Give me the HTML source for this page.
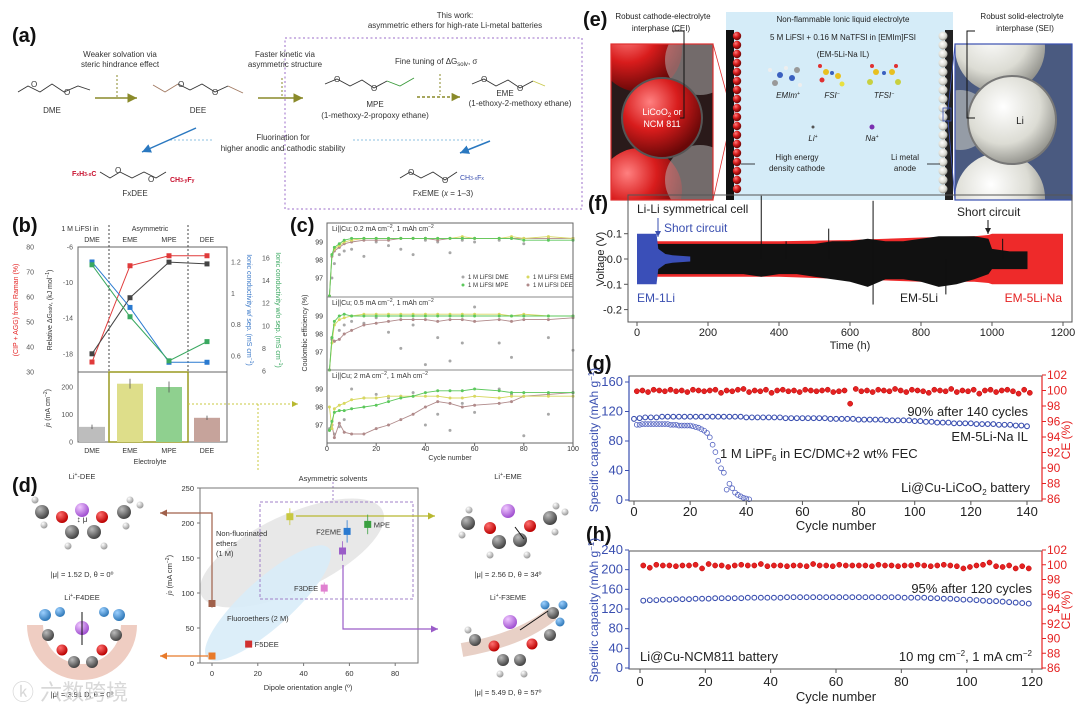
<!DOCTYPE html>
<html><head><meta charset="utf-8"><style>
html,body{margin:0;padding:0;background:#fff;}
svg{display:block;font-family:"Liberation Sans","Noto Sans CJK SC",sans-serif;}
</style></head><body>
<svg id="fig" width="1080" height="705" viewBox="0 0 1080 705" xmlns="http://www.w3.org/2000/svg">
<defs>
<radialGradient id="gRed" cx="35%" cy="30%" r="70%"><stop offset="0" stop-color="#ff8080"/><stop offset="0.5" stop-color="#d81c1c"/><stop offset="1" stop-color="#6a0808"/></radialGradient>
<radialGradient id="gWhite" cx="40%" cy="35%" r="70%"><stop offset="0" stop-color="#ffffff"/><stop offset="0.6" stop-color="#dcdcd4"/><stop offset="1" stop-color="#8a8a84"/></radialGradient>
<radialGradient id="gC" cx="35%" cy="30%" r="70%"><stop offset="0" stop-color="#bbb"/><stop offset="1" stop-color="#444"/></radialGradient>
<radialGradient id="gO" cx="35%" cy="30%" r="70%"><stop offset="0" stop-color="#ff7070"/><stop offset="1" stop-color="#b00"/></radialGradient>
<radialGradient id="gH" cx="35%" cy="30%" r="70%"><stop offset="0" stop-color="#fff"/><stop offset="1" stop-color="#999"/></radialGradient>
<radialGradient id="gF" cx="35%" cy="30%" r="70%"><stop offset="0" stop-color="#9cd0ff"/><stop offset="1" stop-color="#2f78b8"/></radialGradient>
<radialGradient id="gLi" cx="35%" cy="30%" r="70%"><stop offset="0" stop-color="#f0c8ff"/><stop offset="1" stop-color="#a050d0"/></radialGradient>
<clipPath id="clipCath"><rect x="611" y="44" width="102" height="156"/></clipPath>
<clipPath id="clipAnode"><rect x="955" y="44" width="117" height="156"/></clipPath>
<marker id="arOl" markerWidth="8" markerHeight="8" refX="6" refY="3" orient="auto"><path d="M0,0 L6,3 L0,6 z" fill="#8a8a2a"/></marker>
<marker id="arBl" markerWidth="8" markerHeight="8" refX="6" refY="3" orient="auto"><path d="M0,0 L6,3 L0,6 z" fill="#2a78c0"/></marker>
<marker id="arK" markerWidth="8" markerHeight="8" refX="6" refY="3" orient="auto"><path d="M0,0 L6,3 L0,6 z" fill="#222"/></marker>
<marker id="arB2" markerWidth="8" markerHeight="8" refX="6" refY="3" orient="auto"><path d="M0,0 L6,3 L0,6 z" fill="#3a4fb0"/></marker>
<marker id="arBr" markerWidth="8" markerHeight="8" refX="6" refY="3" orient="auto"><path d="M0,0 L6,3 L0,6 z" fill="#a0604a"/></marker>
<marker id="arOr" markerWidth="8" markerHeight="8" refX="6" refY="3" orient="auto"><path d="M0,0 L6,3 L0,6 z" fill="#e87a2a"/></marker>
<marker id="arYe" markerWidth="8" markerHeight="8" refX="6" refY="3" orient="auto"><path d="M0,0 L6,3 L0,6 z" fill="#b8b830"/></marker>
<marker id="arPu" markerWidth="8" markerHeight="8" refX="6" refY="3" orient="auto"><path d="M0,0 L6,3 L0,6 z" fill="#9a5cc8"/></marker>
</defs>

<!-- ================= PANEL A ================= -->
<g font-size="8" fill="#333">
<text x="12" y="42" font-size="20" font-weight="bold" fill="#111">(a)</text>
<text x="455" y="18" text-anchor="middle">This work:</text>
<text x="455" y="28" text-anchor="middle">asymmetric ethers for high-rate Li-metal batteries</text>
<rect x="285" y="38" width="297" height="171" fill="none" stroke="#9b6cc9" stroke-dasharray="2,2.5" stroke-width="1"/>
<g fill="none" stroke="#333" stroke-width="0.9"><polyline points="18,92 28,86 40,92 52,84 64,92 78,86 90,90"/></g>
<text x="31" y="87" font-size="8">O</text><text x="64" y="95">O</text>
<text x="52" y="113" text-anchor="middle">DME</text>
<line x1="95" y1="98" x2="137" y2="98" stroke="#8a8a2a" stroke-width="1.6" marker-end="url(#arOl)"/>
<line x1="117" y1="75" x2="117" y2="97" stroke="#8a8a2a" stroke-dasharray="2,2"/>
<text x="120" y="57" text-anchor="middle">Weaker solvation via</text>
<text x="120" y="67" text-anchor="middle">steric hindrance effect</text>
<g fill="none" stroke-width="0.9"><polyline points="153,85 165,92 178,84" stroke="#a07860"/><polyline points="178,84 190,90 202,84 215,92 228,86" stroke="#333"/><polyline points="228,86 243,93" stroke="#a07860"/></g>
<text x="178" y="87">O</text><text x="212" y="95">O</text>
<text x="198" y="113" text-anchor="middle">DEE</text>
<line x1="258" y1="98" x2="303" y2="98" stroke="#8a8a2a" stroke-width="1.6" marker-end="url(#arOl)"/>
<line x1="282" y1="78" x2="282" y2="97" stroke="#8a8a2a" stroke-dasharray="2,2"/>
<text x="285" y="57" text-anchor="middle">Faster kinetic via</text>
<text x="285" y="67" text-anchor="middle">asymmetric structure</text>
<g fill="none" stroke-width="0.9"><polyline points="325,84 337,79 350,86 362,80 374,88 387,81" stroke="#333"/><polyline points="387,81 400,86 414,78" stroke="#3a9a3a"/></g>
<text x="334" y="82">O</text><text x="371" y="91">O</text>
<text x="375" y="107" text-anchor="middle">MPE</text>
<text x="375" y="118" text-anchor="middle">(1-methoxy-2-propoxy ethane)</text>
<line x1="417" y1="97" x2="460" y2="97" stroke="#8a8a2a" stroke-width="1.4" stroke-dasharray="3,2" marker-end="url(#arOl)"/>
<line x1="440" y1="74" x2="440" y2="95" stroke="#8a8a2a" stroke-dasharray="2,2"/>
<text x="395" y="64">Fine tuning of ΔG<tspan font-size="6" dy="2">solv</tspan><tspan dy="-2">, σ</tspan></text>
<g fill="none" stroke-width="0.9"><polyline points="472,84 484,79 496,86 508,80 520,88 533,81" stroke="#333"/><polyline points="533,81 545,86" stroke="#c8c84a"/></g>
<text x="481" y="82">O</text><text x="517" y="91">O</text>
<text x="505" y="96" text-anchor="middle">EME</text>
<text x="520" y="106" text-anchor="middle">(1-ethoxy-2-methoxy ethane)</text>
<text x="283" y="140" text-anchor="middle">Fluorination for</text>
<text x="283" y="151" text-anchor="middle">higher anodic and cathodic stability</text>
<line x1="170" y1="140" x2="213" y2="140" stroke="#8cc0e0" stroke-dasharray="2,2"/>
<line x1="353" y1="140" x2="485" y2="140" stroke="#8cc0e0" stroke-dasharray="2,2"/>
<line x1="196" y1="128" x2="142" y2="152" stroke="#2a78c0" stroke-width="1.5" marker-end="url(#arBl)"/>
<line x1="490" y1="141" x2="460" y2="153" stroke="#2a78c0" stroke-width="1.5" marker-end="url(#arBl)"/>
<g><text x="72" y="176" fill="#c8102e" font-size="7" font-weight="bold">F<tspan font-size="5">x</tspan>H<tspan font-size="5">3-x</tspan>C</text>
<polyline points="100,172 110,178 120,172 132,178 144,172 156,178 166,172" fill="none" stroke="#333" stroke-width="0.9"/><text x="115" y="173">O</text><text x="148" y="182">O</text>
<text x="170" y="182" fill="#c8102e" font-size="7" font-weight="bold">CH<tspan font-size="5">3-y</tspan>F<tspan font-size="5">y</tspan></text></g>
<text x="135" y="196" text-anchor="middle">FxDEE</text>
<g><polyline points="400,178 410,172 421,178 433,172 445,180 457,172" fill="none" stroke="#333" stroke-width="0.9"/><text x="408" y="175">O</text><text x="442" y="183">O</text><text x="460" y="180" fill="#3a4fb0" font-size="7">CH<tspan font-size="5">3-x</tspan>F<tspan font-size="5">x</tspan></text></g>
<text x="443" y="196" text-anchor="middle">FxEME (<tspan font-style="italic">x</tspan> = 1–3)</text>
</g>

<!-- ================= PANEL E ================= -->
<g font-size="8" fill="#222">
<text x="583" y="26" font-size="20" font-weight="bold" fill="#111">(e)</text>
<text x="663" y="19" text-anchor="middle">Robust cathode-electrolyte</text>
<text x="661" y="31" text-anchor="middle">interphase (CEI)</text>
<g>
<g clip-path="url(#clipCath)">
<rect x="611" y="44" width="102" height="156" fill="#2a1a1a"/>
<circle cx="640" cy="50" r="42" fill="url(#gRed)"/><circle cx="640" cy="190" r="42" fill="url(#gRed)"/>
<circle cx="700" cy="60" r="35" fill="#bbb" opacity="0.5"/><circle cx="700" cy="180" r="35" fill="#bbb" opacity="0.5"/>
<circle cx="662" cy="118" r="40" fill="url(#gRed)" stroke="#555" stroke-width="2"/>
</g>
<rect x="611" y="44" width="102" height="156" fill="none" stroke="#e03030" stroke-width="1.2"/>
<text x="662" y="115" text-anchor="middle" fill="#fff" font-size="9">LiCoO<tspan font-size="6" dy="2">2</tspan><tspan dy="-2"> or</tspan></text>
<text x="662" y="127" text-anchor="middle" fill="#fff" font-size="9">NCM 811</text>
<polyline points="672,31 684,31 684,118 680,118" fill="none" stroke="#111" stroke-width="1"/>
</g>
<rect x="726" y="12" width="227" height="188" fill="#d5ecf8"/>
<line x1="713" y1="44" x2="731" y2="110" stroke="#e03030" stroke-width="0.8"/><line x1="713" y1="200" x2="731" y2="120" stroke="#e03030" stroke-width="0.8"/>
<rect x="728" y="108" width="7" height="13" fill="none" stroke="#e03030" stroke-width="0.8"/>
<g id="cathodeStrip"><rect x="726" y="30" width="8" height="170" fill="#111"/></g>
<g id="anodeStrip"><rect x="945" y="30" width="8" height="170" fill="#222"/></g>
<text x="843" y="22" text-anchor="middle">Non-flammable Ionic liquid electrolyte</text>
<text x="843" y="40" text-anchor="middle">5 M LiFSI + 0.16 M NaTFSI in [EMIm]FSI</text>
<text x="843" y="57" text-anchor="middle">(EM-5Li-Na IL)</text>
<g>
<circle cx="780" cy="75" r="3" fill="#3a60c0"/><circle cx="792" cy="78" r="3" fill="#3a60c0"/><circle cx="775" cy="83" r="3" fill="#999"/><circle cx="797" cy="70" r="3" fill="#999"/><circle cx="786" cy="68" r="2" fill="#eee"/><circle cx="770" cy="70" r="2" fill="#eee"/><circle cx="800" cy="85" r="2" fill="#eee"/>
<circle cx="826" cy="72" r="3" fill="#e8c020"/><circle cx="838" cy="76" r="3" fill="#e8c020"/><circle cx="832" cy="73" r="2" fill="#3a60c0"/><circle cx="822" cy="80" r="2.5" fill="#e03030"/><circle cx="842" cy="84" r="2.5" fill="#e8e040"/><circle cx="820" cy="66" r="2" fill="#e03030"/>
<circle cx="876" cy="72" r="3" fill="#e8c020"/><circle cx="892" cy="72" r="3" fill="#e8c020"/><circle cx="884" cy="73" r="2" fill="#3a60c0"/><circle cx="870" cy="82" r="3" fill="#c8d040"/><circle cx="898" cy="82" r="3" fill="#c8d040"/><circle cx="872" cy="66" r="2" fill="#e03030"/><circle cx="896" cy="66" r="2" fill="#e03030"/>
<circle cx="813" cy="127" r="1.5" fill="#555"/><circle cx="872" cy="127" r="2.5" fill="#7a30b0"/></g>
<text x="788" y="98" text-anchor="middle" font-style="italic">EMIm<tspan font-size="5" dy="-3">+</tspan></text>
<text x="832" y="98" text-anchor="middle" font-style="italic">FSI<tspan font-size="5" dy="-3">−</tspan></text>
<text x="884" y="98" text-anchor="middle" font-style="italic">TFSI<tspan font-size="5" dy="-3">−</tspan></text>
<text x="813" y="141" text-anchor="middle" font-style="italic">Li<tspan font-size="5" dy="-3">+</tspan></text>
<text x="872" y="141" text-anchor="middle" font-style="italic">Na<tspan font-size="5" dy="-3">+</tspan></text>
<text x="797" y="160" text-anchor="middle">High energy</text>
<text x="797" y="171" text-anchor="middle">density cathode</text>
<text x="905" y="160" text-anchor="middle">Li metal</text>
<text x="905" y="171" text-anchor="middle">anode</text>
<line x1="741" y1="164" x2="755" y2="164" stroke="#111" stroke-width="0.8"/><line x1="927" y1="164" x2="940" y2="164" stroke="#111" stroke-width="0.8"/>
<g>
<g clip-path="url(#clipAnode)">
<rect x="955" y="44" width="117" height="156" fill="#4a5a80"/>
<circle cx="1000" cy="48" r="45" fill="url(#gWhite)"/><circle cx="1000" cy="198" r="45" fill="url(#gWhite)"/>
<circle cx="960" cy="120" r="30" fill="#c8c8c0" opacity="0.6"/>
<circle cx="1012" cy="120" r="44" fill="url(#gWhite)" stroke="#777" stroke-width="2"/>
</g>
<rect x="955" y="44" width="117" height="156" fill="none" stroke="#3a4fb0" stroke-width="1.2"/>
<text x="1020" y="124" text-anchor="middle" font-size="10" fill="#222">Li</text>
<polyline points="975,31 967,31 967,118 975,118" fill="none" stroke="#111" stroke-width="1"/>
</g>
<line x1="955" y1="44" x2="948" y2="110" stroke="#3a4fb0" stroke-width="0.8"/><line x1="955" y1="200" x2="948" y2="120" stroke="#3a4fb0" stroke-width="0.8"/>
<rect x="943" y="108" width="8" height="13" fill="none" stroke="#3a4fb0" stroke-width="0.8"/>
<text x="1022" y="19" text-anchor="middle">Robust solid-electrolyte</text>
<text x="1025" y="31" text-anchor="middle">interphase (SEI)</text>
</g>

<!-- ================= PANEL F ================= -->
<g id="panelF" font-size="11" fill="#222">
<text x="588" y="210" font-size="20" font-weight="bold" fill="#111">(f)</text>
<g id="fMarks"></g>
<rect x="628" y="195" width="444" height="127" fill="none" stroke="#555" stroke-width="1"/>
<g id="fAxes"></g>
<text x="637" y="213" font-size="12">Li-Li symmetrical cell</text>
<text x="664" y="232" font-size="12" fill="#3a4fb0">Short circuit</text>
<line x1="658" y1="218" x2="658" y2="237" stroke="#3a4fb0" marker-end="url(#arB2)"/>
<text x="957" y="216" font-size="12">Short circuit</text>
<line x1="988" y1="220" x2="988" y2="234" stroke="#111" marker-end="url(#arK)"/>
<text x="637" y="302" font-size="12" fill="#3a4fb0">EM-1Li</text>
<text x="900" y="302" font-size="12">EM-5Li</text>
<text x="1062" y="302" font-size="12" fill="#e52222" text-anchor="end">EM-5Li-Na</text>
<text x="850" y="349" text-anchor="middle" font-size="11">Time (h)</text>
<text transform="translate(604,259) rotate(-90)" text-anchor="middle" font-size="11">Voltage (V)</text>
</g>

<!-- ================= PANEL G ================= -->
<g id="panelG" font-size="13" fill="#222">
<text x="586" y="370" font-size="20" font-weight="bold" fill="#111">(g)</text>
<g id="gMarks"></g>
<rect x="629" y="376" width="413" height="125" fill="none" stroke="#555"/>
<line x1="629" y1="376" x2="629" y2="501" stroke="#3a4fb0" stroke-width="1.2"/><line x1="1042" y1="376" x2="1042" y2="501" stroke="#e52222" stroke-width="1.2"/>
<g id="gAxes"></g>
<text x="1028" y="416" text-anchor="end">90% after 140 cycles</text>
<text x="1028" y="441" text-anchor="end">EM-5Li-Na IL</text>
<text x="720" y="458">1 M LiPF<tspan font-size="8" dy="3">6</tspan><tspan dy="-3"> in EC/DMC+2 wt% FEC</tspan></text>
<text x="1030" y="492" text-anchor="end">Li@Cu-LiCoO<tspan font-size="8" dy="3">2</tspan><tspan dy="-3"> battery</tspan></text>
<text x="836" y="530" text-anchor="middle">Cycle number</text>
<text transform="translate(598,440) rotate(-90)" text-anchor="middle" fill="#3a4fb0" font-size="12">Specific capacity (mAh g<tspan font-size="8" dy="-4">−1</tspan><tspan dy="4">)</tspan></text>
<text transform="translate(1070,440) rotate(-90)" text-anchor="middle" fill="#e52222" font-size="12">CE (%)</text>
</g>

<!-- ================= PANEL H ================= -->
<g id="panelH" font-size="13" fill="#222">
<text x="586" y="541" font-size="20" font-weight="bold" fill="#111">(h)</text>
<g id="hMarks"></g>
<rect x="629" y="551" width="413" height="118" fill="none" stroke="#555"/>
<line x1="629" y1="551" x2="629" y2="669" stroke="#3a4fb0" stroke-width="1.2"/><line x1="1042" y1="551" x2="1042" y2="669" stroke="#e52222" stroke-width="1.2"/>
<g id="hAxes"></g>
<text x="1032" y="593" text-anchor="end">95% after 120 cycles</text>
<text x="640" y="661">Li@Cu-NCM811 battery</text>
<text x="1032" y="661" text-anchor="end">10 mg cm<tspan font-size="8" dy="-5">−2</tspan><tspan dy="5">, 1 mA cm</tspan><tspan font-size="8" dy="-5">−2</tspan></text>
<text x="836" y="701" text-anchor="middle">Cycle number</text>
<text transform="translate(598,610) rotate(-90)" text-anchor="middle" fill="#3a4fb0" font-size="12">Specific capacity (mAh g<tspan font-size="8" dy="-4">−1</tspan><tspan dy="4">)</tspan></text>
<text transform="translate(1070,610) rotate(-90)" text-anchor="middle" fill="#e52222" font-size="12">CE (%)</text>
</g>

<!-- ================= PANEL B ================= -->
<g id="panelB" font-size="7" fill="#333">
<text x="12" y="232" font-size="20" font-weight="bold" fill="#111">(b)</text>
<text x="80" y="231" text-anchor="middle">1 M LiFSI in</text>
<text x="150" y="231" text-anchor="middle">Asymmetric</text>
<rect x="78" y="247" width="149" height="125" fill="none" stroke="#666"/>
<rect x="78" y="372" width="149" height="70" fill="none" stroke="#666"/>
<rect x="109" y="372" width="79" height="70" fill="none" stroke="#9a9a20" stroke-width="1.5"/>
<line x1="109" y1="225" x2="109" y2="372" stroke="#444" stroke-dasharray="2,2"/><line x1="188" y1="225" x2="188" y2="372" stroke="#444" stroke-dasharray="2,2"/>
<g id="bMarks"></g>
<g id="bAxes"></g>
<text transform="translate(18,310) rotate(-90)" text-anchor="middle" fill="#e52222">(CIP + AGG) from Raman (%)</text>
<text transform="translate(52,310) rotate(-90)" text-anchor="middle">Relative ΔG<tspan font-size="5">solv</tspan>, (kJ mol<tspan font-size="5" dy="-3">−1</tspan><tspan dy="3">)</tspan></text>
<text transform="translate(247,310) rotate(90)" text-anchor="middle" fill="#3a78c8">Ionic conductivity w/ sep. (mS cm<tspan font-size="5" dy="-3">−1</tspan><tspan dy="3">)</tspan></text>
<text transform="translate(276,310) rotate(90)" text-anchor="middle" fill="#3aa860">Ionic conductivity w/o sep. (mS cm<tspan font-size="5" dy="-3">−1</tspan><tspan dy="3">)</tspan></text>
<text transform="translate(50,408) rotate(-90)" text-anchor="middle"><tspan font-style="italic">j</tspan><tspan font-size="5">0</tspan> (mA cm<tspan font-size="5" dy="-3">−2</tspan><tspan dy="3">)</tspan></text>
<text x="150" y="464" text-anchor="middle">Electrolyte</text>
</g>
<line x1="188" y1="404" x2="298" y2="404" stroke="#c8c840" stroke-dasharray="2,2" marker-end="url(#arYe)"/>
<line x1="258" y1="404" x2="258" y2="470" stroke="#c8c840" stroke-dasharray="2,2"/>

<!-- ================= PANEL C ================= -->
<g id="panelC" font-size="7" fill="#333">
<text x="290" y="232" font-size="20" font-weight="bold" fill="#111">(c)</text>
<g id="cMarks"></g>
<rect x="327" y="223" width="246" height="220" fill="none" stroke="#666"/>
<line x1="327" y1="297" x2="573" y2="297" stroke="#888"/><line x1="327" y1="370" x2="573" y2="370" stroke="#888"/>
<g id="cAxes"></g>
<text x="332" y="231">Li||Cu; 0.2 mA cm<tspan font-size="5" dy="-3">−2</tspan><tspan dy="3">, 1 mAh cm</tspan><tspan font-size="5" dy="-3">−2</tspan></text>
<text x="332" y="305">Li||Cu; 0.5 mA cm<tspan font-size="5" dy="-3">−2</tspan><tspan dy="3">, 1 mAh cm</tspan><tspan font-size="5" dy="-3">−2</tspan></text>
<text x="332" y="378">Li||Cu; 2 mA cm<tspan font-size="5" dy="-3">−2</tspan><tspan dy="3">, 1 mAh cm</tspan><tspan font-size="5" dy="-3">−2</tspan></text>
<g font-size="6">
<circle cx="463" cy="277" r="1.5" fill="#a8a8a8"/><text x="468" y="279">1 M LiFSI DME</text>
<circle cx="528" cy="277" r="1.5" fill="#d8d860"/><text x="533" y="279">1 M LiFSI EME</text>
<circle cx="463" cy="285" r="1.5" fill="#5cc85c"/><text x="468" y="287">1 M LiFSI MPE</text>
<circle cx="528" cy="285" r="1.5" fill="#b08a8a"/><text x="533" y="287">1 M LiFSI DEE</text></g>
<text transform="translate(307,333) rotate(-90)" text-anchor="middle">Coulombic efficiency (%)</text>
<text x="450" y="460" text-anchor="middle">Cycle number</text>
</g>

<!-- ================= PANEL D ================= -->
<g id="panelD" font-size="7.5" fill="#333">
<text x="12" y="492" font-size="20" font-weight="bold" fill="#111">(d)</text>
<ellipse cx="292" cy="553" rx="100" ry="38" transform="rotate(-25 292 553)" fill="#e6e6e6" opacity="0.9"/>
<ellipse cx="268" cy="603" rx="82" ry="24" transform="rotate(-42 268 603)" fill="#d8ecf8" opacity="0.9"/>
<rect x="260" y="502" width="153" height="97" fill="none" stroke="#a080c8" stroke-dasharray="3,2"/>
<line x1="333" y1="482" x2="333" y2="502" stroke="#a080c8" stroke-dasharray="2,2"/>
<text x="333" y="481" text-anchor="middle">Asymmetric solvents</text>
<rect x="200" y="488" width="218" height="175" fill="none" stroke="#777"/>
<g id="dAxes"></g>
<polyline points="212,600 212,513 160,513" fill="none" stroke="#a0604a" stroke-width="1.2" marker-end="url(#arBr)"/>
<line x1="208" y1="656" x2="160" y2="656" stroke="#e87a2a" stroke-width="1.2" marker-end="url(#arOr)"/>
<line x1="296" y1="516" x2="435" y2="516" stroke="#b8b830" stroke-width="1.2" marker-end="url(#arYe)"/>
<polyline points="343,565 343,629 438,629" fill="none" stroke="#9a5cc8" stroke-width="1.2" marker-end="url(#arPu)"/>
<g id="dMarks"></g>
<text x="216" y="536">Non-fluorinated</text>
<text x="216" y="546">ethers</text>
<text x="216" y="556">(1 M)</text>
<text x="227" y="621">Fluoroethers (2 M)</text>
<text transform="translate(172,575) rotate(-90)" text-anchor="middle"><tspan font-style="italic">j</tspan><tspan font-size="5">0</tspan> (mA cm<tspan font-size="5" dy="-3">−2</tspan><tspan dy="3">)</tspan></text>
<text x="308" y="690" text-anchor="middle">Dipole orientation angle (º)</text>
<g>
<text x="82" y="479" text-anchor="middle">Li<tspan font-size="5" dy="-3">+</tspan><tspan dy="3">-DEE</tspan></text>
<circle cx="82" cy="510" r="7" fill="url(#gLi)"/>
<circle cx="42" cy="512" r="7" fill="url(#gC)"/><circle cx="35" cy="500" r="3.5" fill="url(#gH)"/><circle cx="44" cy="525" r="3.5" fill="url(#gH)"/>
<circle cx="62" cy="517" r="6" fill="url(#gO)"/><circle cx="102" cy="517" r="6" fill="url(#gO)"/>
<circle cx="72" cy="532" r="7" fill="url(#gC)"/><circle cx="94" cy="532" r="7" fill="url(#gC)"/><circle cx="68" cy="546" r="3.5" fill="url(#gH)"/><circle cx="104" cy="546" r="3.5" fill="url(#gH)"/>
<circle cx="124" cy="512" r="7" fill="url(#gC)"/><circle cx="130" cy="500" r="3.5" fill="url(#gH)"/><circle cx="140" cy="505" r="3.5" fill="url(#gH)"/><circle cx="126" cy="526" r="3.5" fill="url(#gH)"/>
<text x="82" y="522" text-anchor="middle" font-size="8">↕ μ</text></g>
<text x="82" y="577" text-anchor="middle">|μ| = 1.52 D, θ = 0º</text>
<g>
<text x="82" y="600" text-anchor="middle">Li<tspan font-size="5" dy="-3">+</tspan><tspan dy="3">-F4DEE</tspan></text>
<path d="M35,625 A47,47 0 0 0 129,625" fill="none" stroke="#e8b8a8" stroke-width="16" opacity="0.7"/>
<circle cx="82" cy="628" r="7" fill="url(#gLi)"/>
<circle cx="45" cy="615" r="6" fill="url(#gF)"/><circle cx="60" cy="612" r="5" fill="url(#gF)"/><circle cx="104" cy="612" r="5" fill="url(#gF)"/><circle cx="119" cy="615" r="6" fill="url(#gF)"/>
<circle cx="48" cy="635" r="6" fill="url(#gC)"/><circle cx="116" cy="635" r="6" fill="url(#gC)"/>
<circle cx="62" cy="650" r="5.5" fill="url(#gO)"/><circle cx="102" cy="650" r="5.5" fill="url(#gO)"/>
<circle cx="74" cy="662" r="6" fill="url(#gC)"/><circle cx="92" cy="662" r="6" fill="url(#gC)"/>
<line x1="82" y1="612" x2="82" y2="645" stroke="#111" stroke-width="1"/></g>
<text x="82" y="697" text-anchor="middle">|μ| = 3.91 D, θ = 0º</text>
<g>
<text x="508" y="479" text-anchor="middle">Li<tspan font-size="5" dy="-3">+</tspan><tspan dy="3">-EME</tspan></text>
<circle cx="508" cy="511" r="7" fill="url(#gLi)"/>
<circle cx="468" cy="523" r="7" fill="url(#gC)"/><circle cx="469" cy="510" r="3.5" fill="url(#gH)"/><circle cx="462" cy="535" r="3.5" fill="url(#gH)"/>
<circle cx="490" cy="528" r="6" fill="url(#gO)"/><circle cx="530" cy="526" r="6" fill="url(#gO)"/>
<circle cx="499" cy="542" r="7" fill="url(#gC)"/><circle cx="520" cy="540" r="7" fill="url(#gC)"/><circle cx="490" cy="555" r="3.5" fill="url(#gH)"/><circle cx="527" cy="555" r="3.5" fill="url(#gH)"/>
<circle cx="550" cy="518" r="7" fill="url(#gC)"/><circle cx="556" cy="506" r="3.5" fill="url(#gH)"/><circle cx="565" cy="512" r="3.5" fill="url(#gH)"/><circle cx="555" cy="532" r="3.5" fill="url(#gH)"/>
<line x1="515" y1="527" x2="524" y2="539" stroke="#111"/></g>
<text x="508" y="577" text-anchor="middle">|μ| = 2.56 D, θ = 34º</text>
<g>
<text x="508" y="600" text-anchor="middle">Li<tspan font-size="5" dy="-3">+</tspan><tspan dy="3">-F3EME</tspan></text>
<path d="M462,650 Q520,640 552,614" fill="none" stroke="#d8b0a0" stroke-width="14" opacity="0.6"/>
<circle cx="510" cy="622" r="7" fill="url(#gLi)"/>
<circle cx="553" cy="613" r="6" fill="url(#gC)"/><circle cx="545" cy="605" r="4.5" fill="url(#gF)"/><circle cx="563" cy="605" r="4.5" fill="url(#gF)"/><circle cx="560" cy="622" r="4.5" fill="url(#gF)"/>
<circle cx="550" cy="635" r="6" fill="url(#gC)"/><circle cx="532" cy="644" r="5.5" fill="url(#gO)"/><circle cx="494" cy="646" r="5.5" fill="url(#gO)"/>
<circle cx="520" cy="660" r="6" fill="url(#gC)"/><circle cx="503" cy="660" r="6" fill="url(#gC)"/><circle cx="475" cy="640" r="6" fill="url(#gC)"/><circle cx="468" cy="630" r="3.5" fill="url(#gH)"/><circle cx="500" cy="674" r="3.5" fill="url(#gH)"/><circle cx="524" cy="674" r="3.5" fill="url(#gH)"/>
<line x1="520" y1="630" x2="548" y2="611" stroke="#111"/></g>
<text x="508" y="695" text-anchor="middle">|μ| = 5.49 D, θ = 57º</text>
</g>
<text x="12" y="700" font-size="22" fill="#cfcfcf" opacity="0.8">ⓚ 六数跨境</text>

<script>
// ---------- DATA: panel f ----------
const fTicksX = [0,200,400,600,800,1000,1200];
const fTicksY = [-0.2,-0.1,0.0,0.1];
const blueT  = [0,55,60,80,100,150];
const blueUp = [0.10,0.10,0.04,0.02,0.015,0.01];
const blueLo = [-0.10,-0.10,-0.04,-0.02,-0.015,-0.01];
const redT  = [55,200,400,600,800,950,990,1000,1100,1200];
const redUp = [0.07,0.07,0.07,0.075,0.085,0.09,0.095,0.10,0.10,0.10];
const redLo = [-0.07,-0.07,-0.07,-0.08,-0.09,-0.09,-0.095,-0.10,-0.10,-0.10];
const blackT  = [55,100,150,200,250,300,350,400,450,500,550,600,650,700,750,800,850,900,950,990,1000,1050,1100];
const blackUp = [0.06,0.06,0.06,0.06,0.06,0.06,0.06,0.06,0.06,0.06,0.07,0.07,0.08,0.07,0.07,0.08,0.09,0.09,0.09,0.08,0.04,0.03,0.03];
const blackLo = [-0.06,-0.06,-0.06,-0.06,-0.06,-0.06,-0.07,-0.06,-0.06,-0.07,-0.08,-0.09,-0.11,-0.08,-0.08,-0.09,-0.11,-0.10,-0.08,-0.06,-0.04,-0.04,-0.04];
const spikeT = [350,420,540,665,665,870,1030];
const spikeV = [0.25,0.07,0.12,0.23,-0.18,-0.14,0.08];

// ---------- DATA: panel g ----------
const gTicksX = [0,20,40,60,80,100,120,140];
const gTicksL = [0,40,80,120,160];
const gTicksR = [86,88,90,92,94,96,98,100,102];
const gIL = [110,111,112,112,112,113,113,113,113,113,113,113,113,113,113,113,113,113,113,113,112,112,112,112,112,112,112,111,111,111,111,111,111,111,111,110,110,110,110,110,109,109,109,109,109,108,108,108,108,108,107,107,106,106,105,105,105,104,104,104,104,103,103,103,103,102,102,102,101,101,100];
const gLiPF6 = [102,102,103,103,103,103,103,103,103,103,103,103,102,102,102,101,101,101,101,101,100,99,98,96,94,91,85,75,65,53,43,37,14,22,16,10,7,5,3,2,1];
const gCE = [99.9,100.0,99.8,100.1,100.0,99.9,100.1,99.9,100.0,99.8,100.1,100.0,99.9,100.0,100.1,99.7,100.0,99.9,100.1,100.2,99.8,100.0,99.9,100.1,99.7,100.0,100.1,99.9,100.0,99.8,100.1,100.0,99.9,100.0,100.1,99.8,99.9,100.0,98.3,100.2,99.9,100.0,99.8,100.1,100.0,99.9,100.2,100.0,99.8,100.1,100.0,99.9,99.7,100.1,100.0,99.9,100.2,99.8,100.0,99.9,100.1,99.6,100.0,100.1,99.8,100.0,100.1,99.9,99.6,100.1,99.7];

// ---------- DATA: panel h ----------
const hTicksX = [0,20,40,60,80,100,120];
const hTicksL = [0,40,80,120,160,200,240];
const hTicksR = [86,88,90,92,94,96,98,100,102];
const hIL = [137,138,138,139,139,140,140,140,141,141,141,142,142,142,142,142,143,143,143,143,143,143,144,144,144,144,144,144,144,144,144,144,144,144,144,144,144,144,144,144,143,143,143,143,142,142,141,141,140,139,139,138,137,136,136,135,134,133,132,131];
const hCE = [99.9,99.6,100.0,99.9,99.9,99.8,99.9,99.9,100.0,99.5,100.1,99.9,99.9,99.7,99.9,100.0,99.9,99.9,100.1,99.8,99.9,99.9,99.8,99.9,99.9,99.8,100.1,99.9,99.9,99.8,100.0,99.9,99.9,99.9,99.9,99.8,100.0,99.9,99.9,99.8,99.9,99.9,100.0,99.9,99.8,99.9,100.0,99.9,99.8,99.5,99.7,99.9,100.0,100.3,99.8,99.7,99.9,99.5,99.8,99.5];

// ---------- DATA: panel b ----------
const bCats = ['DME','EME','MPE','DEE'];
const bRaman = [34,72.5,76.5,76.5];
const bDeltaG = [-18,-11.7,-7.7,-7.9];
const bCondSep = [1.2,0.91,0.56,0.56];
const bCondNoSep = [15.4,10.8,6.9,8.6];
const bJ0 = [55,212,200,88];
const bJ0err = [8,18,20,8];
const bTicksRed = [30,40,50,60,70,80];
const bTicksBlack = [-18,-14,-10,-6];
const bTicksBlue = [0.6,0.8,1.0,1.2];
const bTicksGreen = [6,8,10,12,14,16];
const bTicksBar = [0,100,200];

// ---------- DATA: panel c ----------
const cCycles = [1,2,3,5,7,10,15,20,25,30,35,40,45,50,55,60,70,75,80,90,100];
const cTicksX = [0,20,40,60,80,100];
const cTicksY = [97,98,99];
const c1MPE = [96,98.3,98.7,98.9,99.1,99.2,99.2,99.2,99.2,99.2,99.2,99.2,99.2,99.2,99.2,99.2,99.2,99.2,99.1,99.1,99.1];
const c1EME = [96,98.3,98.6,98.8,99.0,99.1,99.2,99.2,99.2,99.2,99.2,99.2,99.2,99.2,99.3,99.2,99.2,99.3,99.2,99.3,99.2];
const c1DEE = [96,98.2,98.5,98.7,98.9,99.0,99.1,99.1,99.1,99.2,99.2,99.2,99.1,99.2,99.2,99.2,99.2,99.2,99.2,99.2,99.2];
const c1DME = [96,97,97.8,98.3,98.5,98.6,98.2,99,98.8,98.6,98.3,99.1,99,98.4,99.1,99.0,99.1,99.2,98.9,99.2,99.2];
const c2MPE = [96,97.8,98.7,99.0,99.1,99.0,99.0,99.0,99.0,99.0,99.0,99.0,99.0,99.0,99.0,99.0,99.0,99.0,99.0,99.0,99.0];
const c2EME = [96,97.5,98.5,98.8,98.9,99.0,99.1,99.1,99.1,99.1,99.1,99.1,99.1,99.1,99.1,99.1,99.1,99.0,99.1,99.0,99.0];
const c2DEE = [96,97.7,97.6,97.7,98.0,98.2,98.5,98.6,98.7,98.8,98.8,98.8,98.7,98.8,98.8,98.7,98.8,98.7,98.8,98.8,98.9];
const c2DME = [96,97.8,97.6,98.2,98.5,98.7,98.6,98.9,98.1,97.2,98.5,96.3,97.8,96.5,97.5,99.5,97.5,96.7,99.0,97.8,97.1];
const c3MPE = [96.7,97.2,97.7,97.8,97.8,97.9,98.0,98.1,98.3,98.5,98.6,98.8,98.9,98.9,98.9,99.0,98.9,98.8,98.8,98.8,98.8];
const c3EME = [98,96.8,97.9,98.1,98.2,98.4,98.5,98.5,98.6,98.6,98.6,98.6,98.6,98.5,98.5,98.6,98.5,98.6,98.6,98.6,98.6];
const c3DEE = [96.7,97.0,96.3,97.1,96.6,96.5,96.5,96.8,97.0,97.3,97.6,98.0,98.3,98.2,98.0,98.1,98.2,98.3,98.6,98.7,98.8];
const c3DME = [96.8,97.0,96.5,96.9,97.3,99.0,98.5,98.7,98.5,98.6,98.8,97.0,97.6,96.7,98.2,97.7,99.0,98.7,96.4,97.6,98.8];

// ---------- DATA: panel d ----------
const dNames = ['DEE','F4DEE','F5DEE','F3DEE','F3EME','F2EME','MPE','EME'];
const dAngle = [0,0,16,49,57,59,68,34];
const dJ0 = [85,10,27,107,160,188,198,209];
const dErr = [6,3,4,8,14,16,14,12];
const dTicksX = [0,20,40,60,80];
const dTicksY = [0,50,100,150,200,250];

const NS='http://www.w3.org/2000/svg';
function mk(tag, attrs, parent){const el=document.createElementNS(NS,tag);for(const k in attrs)el.setAttribute(k,attrs[k]);parent.appendChild(el);return el;}
function txt(s, attrs, parent){const el=mk('text',attrs,parent);el.textContent=s;return el;}

const xF=t=>637+t*(426/1200), yF=v=>259-v*253;
const xG=c=>634+c*(393/140), yGL=v=>500-v*(118/160), yGR=v=>499-(v-86)*(124/16);
const xH=c=>640+c*(392/120), yHL=v=>668-v*(118/240), yHR=v=>668-(v-86)*(118/16);
const bX=[92,130,169,207];
const yRed=v=>372-(v-30)*2.5, yBlk=v=>247+(-6-v)*8.9, yBlu=v=>356-(v-0.6)*156.7, yGrn=v=>371-(v-6)*11.3, yBar=v=>442-v*0.275;
const xC=n=>327+n*2.46, cTop=[224,298,371], yC=(p,v)=>cTop[p]+(100-v)*18;
const xD=a=>212+a*2.29, yD=j=>663-j*0.7;

// ---- panel f ----
const fm=document.getElementById('fMarks'), fa=document.getElementById('fAxes');
function band(T,U,L,color,name){
  let pts=T.map((t,i)=>xF(t)+','+yF(U[i]));
  for(let i=T.length-1;i>=0;i--)pts.push(xF(T[i])+','+yF(L[i]));
  const el=mk('polygon',{points:pts.join(' '),fill:color},fm);
  
  
}
band(redT,redUp,redLo,'#ee2a2a','em-5li-na-band');
band(blackT,blackUp,blackLo,'#111','em-5li-band');
band(blueT,blueUp,blueLo,'#3a4fb8','em-1li-band');
spikeT.forEach((t,i)=>{
  const el=mk('line',{x1:xF(t),x2:xF(t),y1:yF(0),y2:Math.max(195,yF(spikeV[i])),stroke:'#111','stroke-width':1},fm);
  
  
});
fTicksX.forEach(t=>{
  mk('line',{x1:xF(t),x2:xF(t),y1:322,y2:326,stroke:'#555'},fa);
  const el=txt(String(t),{x:xF(t),y:336,'text-anchor':'middle','font-size':11},fa);
  
  
});
fTicksY.forEach(v=>{
  mk('line',{x1:624,x2:628,y1:yF(v),y2:yF(v),stroke:'#555'},fa);
  const el=txt(v.toFixed(1),{x:622,y:yF(v)+4,'text-anchor':'end','font-size':11},fa);
  
  
});

// ---- panel g ----
const gm=document.getElementById('gMarks'), ga=document.getElementById('gAxes');
gCE.forEach((v,i)=>{const el=mk('circle',{cx:xG(1+i*2),cy:yGR(v),r:2.6,fill:'#e52222',stroke:'#b00','stroke-width':0.5},gm);
  
  });
gIL.forEach((v,i)=>{const el=mk('circle',{cx:xG(i*2),cy:yGL(v),r:2.4,fill:'none',stroke:'#3a4fb0','stroke-width':1.1},gm);
  
  });
gLiPF6.forEach((v,i)=>{const el=mk('circle',{cx:xG(i+1),cy:yGL(v),r:2.4,fill:'none',stroke:'#5060c0','stroke-width':0.8},gm);
  
  });
gTicksX.forEach(t=>{mk('line',{x1:xG(t),x2:xG(t),y1:501,y2:505,stroke:'#555'},ga);
  const el=txt(String(t),{x:xG(t),y:516,'text-anchor':'middle'},ga);
  
  });
gTicksL.forEach(v=>{mk('line',{x1:625,x2:629,y1:yGL(v),y2:yGL(v),stroke:'#3a4fb0'},ga);
  const el=txt(String(v),{x:623,y:yGL(v)+4,'text-anchor':'end',fill:'#3a4fb0'},ga);
  
  });
gTicksR.forEach(v=>{mk('line',{x1:1042,x2:1046,y1:yGR(v),y2:yGR(v),stroke:'#e52222'},ga);
  const el=txt(String(v),{x:1047,y:yGR(v)+4,fill:'#e52222','font-size':12},ga);
  
  });

// ---- panel h ----
const hm=document.getElementById('hMarks'), ha=document.getElementById('hAxes');
hCE.forEach((v,i)=>{const el=mk('circle',{cx:xH(1+i*2),cy:yHR(v),r:2.6,fill:'#e52222',stroke:'#b00','stroke-width':0.5},hm);
  
  });
hIL.forEach((v,i)=>{const el=mk('circle',{cx:xH(1+i*2),cy:yHL(v),r:2.4,fill:'none',stroke:'#3a4fb0','stroke-width':1.1},hm);
  
  });
hTicksX.forEach(t=>{mk('line',{x1:xH(t),x2:xH(t),y1:669,y2:673,stroke:'#555'},ha);
  const el=txt(String(t),{x:xH(t),y:686,'text-anchor':'middle'},ha);
  
  });
hTicksL.forEach(v=>{mk('line',{x1:625,x2:629,y1:yHL(v),y2:yHL(v),stroke:'#3a4fb0'},ha);
  const el=txt(String(v),{x:623,y:yHL(v)+4,'text-anchor':'end',fill:'#3a4fb0'},ha);
  
  });
hTicksR.forEach(v=>{mk('line',{x1:1042,x2:1046,y1:yHR(v),y2:yHR(v),stroke:'#e52222'},ha);
  const el=txt(String(v),{x:1047,y:yHR(v)+4,fill:'#e52222','font-size':12},ha);
  
  });

// ---- panel b ----
const bm=document.getElementById('bMarks'), ba=document.getElementById('bAxes');
const barColors=['#bdbdbd','#dede8a','#8fd08f','#c6a39b'];
bJ0.forEach((v,i)=>{
  const el=mk('rect',{x:bX[i]-13,y:yBar(v),width:26,height:442-yBar(v),fill:barColors[i]},bm);
  
  
  const eb=mk('line',{x1:bX[i],x2:bX[i],y1:yBar(v+bJ0err[i]),y2:yBar(v-bJ0err[i]),stroke:'#555','stroke-width':0.8},bm);
  
  
});
function bLine(vals,yf,color,name){
  const el=mk('polyline',{points:vals.map((v,i)=>bX[i]+','+yf(v)).join(' '),fill:'none',stroke:color,'stroke-width':1},bm);
  
  
  vals.forEach((v,i)=>{const p=mk('rect',{x:bX[i]-2.5,y:yf(v)-2.5,width:5,height:5,fill:color},bm);
    
    });
}
bLine(bRaman,yRed,'#e03a3a','raman-line');
bLine(bDeltaG,yBlk,'#444','delta-g-line');
bLine(bCondSep,yBlu,'#2a7ad0','cond-sep-line');
bLine(bCondNoSep,yGrn,'#3aa860','cond-nosep-line');
function bTick(list,yf,x,anchor,color,name){list.forEach(v=>{
  const el=txt(String(v),{x:x,y:yf(v)+2.5,'text-anchor':anchor,fill:color},ba);
  
  });}
bTick(bTicksRed,yRed,34,'end','#555','b-red-tick-label');
bTick(bTicksBlack,yBlk,73,'end','#555','b-black-tick-label');
bTick(bTicksBlue,yBlu,231,'start','#555','b-blue-tick-label');
bTick(bTicksGreen,yGrn,262,'start','#555','b-green-tick-label');
bTick(bTicksBar,yBar,73,'end','#555','b-bar-tick-label');
bCats.forEach((c,i)=>{
  const t1=txt(c,{x:bX[i],y:242,'text-anchor':'middle'},ba);
  
  
  const t2=txt(c,{x:bX[i],y:453,'text-anchor':'middle'},ba);
  
  
});

// ---- panel c ----
const cm=document.getElementById('cMarks'), ca=document.getElementById('cAxes');
function cSeries(p,vals,color,name,line){
  if(line){const pl=mk('polyline',{points:vals.map((v,i)=>xC(cCycles[i])+','+yC(p,v)).join(' '),fill:'none',stroke:color,'stroke-width':0.9},cm);
    
    }
  vals.forEach((v,i)=>{const el=mk('circle',{cx:xC(cCycles[i]),cy:yC(p,v),r:1.5,fill:color},cm);
    
    });
}
[[c1DME,c1DEE,c1EME,c1MPE],[c2DME,c2DEE,c2EME,c2MPE],[c3DME,c3DEE,c3EME,c3MPE]].forEach((s,p)=>{
  cSeries(p,s[0],'#a8a8a8','c-dme',false);
  cSeries(p,s[1],'#b08a8a','c-dee',true);
  cSeries(p,s[2],'#d8d860','c-eme',true);
  cSeries(p,s[3],'#5cc85c','c-mpe',true);
  cTicksY.forEach(v=>{const el=txt(String(v),{x:323,y:yC(p,v)+2.5,'text-anchor':'end'},ca);
    
    });
});
cTicksX.forEach(n=>{mk('line',{x1:xC(n),x2:xC(n),y1:443,y2:446,stroke:'#666'},ca);
  const el=txt(String(n),{x:xC(n),y:451,'text-anchor':'middle'},ca);
  
  });

// ---- panel d ----
const dm=document.getElementById('dMarks'), da=document.getElementById('dAxes');
const dColors=['#a0604a','#e87a2a','#d03030','#e080d0','#9a5cc8','#2a7ad0','#3aa040','#c8c840'];
dAngle.forEach((a,i)=>{
  const eb=mk('line',{x1:xD(a),x2:xD(a),y1:yD(dJ0[i]+dErr[i]),y2:yD(dJ0[i]-dErr[i]),stroke:dColors[i],'stroke-width':0.8},dm);
  
  
  const el=mk('rect',{x:xD(a)-3.5,y:yD(dJ0[i])-3.5,width:7,height:7,fill:dColors[i]},dm);
  
  
});
const dLabelIdx=[2,3,5,6];
dLabelIdx.forEach(i=>{
  const right = dNames[i]==='F5DEE'||dNames[i]==='MPE';
  const el=txt(dNames[i],{x:right?xD(dAngle[i])+6:xD(dAngle[i])-6,y:yD(dJ0[i])+3,'text-anchor':right?'start':'end'},dm);
  
  
});
dTicksX.forEach(a=>{mk('line',{x1:xD(a),x2:xD(a),y1:663,y2:666,stroke:'#777'},da);
  const el=txt(String(a),{x:xD(a),y:676,'text-anchor':'middle'},da);
  
  });
dTicksY.forEach(j=>{mk('line',{x1:197,x2:200,y1:yD(j),y2:yD(j),stroke:'#777'},da);
  const el=txt(String(j),{x:194,y:yD(j)+3,'text-anchor':'end'},da);
  
  });

// ---- panel e electrode particles ----
const cs=document.getElementById('cathodeStrip'), as=document.getElementById('anodeStrip');
for(let y=36;y<198;y+=9){
  const a=mk('circle',{cx:737,cy:y,r:4.2,fill:'url(#gRed)'},cs);
  
  
  const b=mk('circle',{cx:943,cy:y,r:4.5,fill:'url(#gWhite)'},as);
  
  
}
</script>
</svg>
</body></html>
